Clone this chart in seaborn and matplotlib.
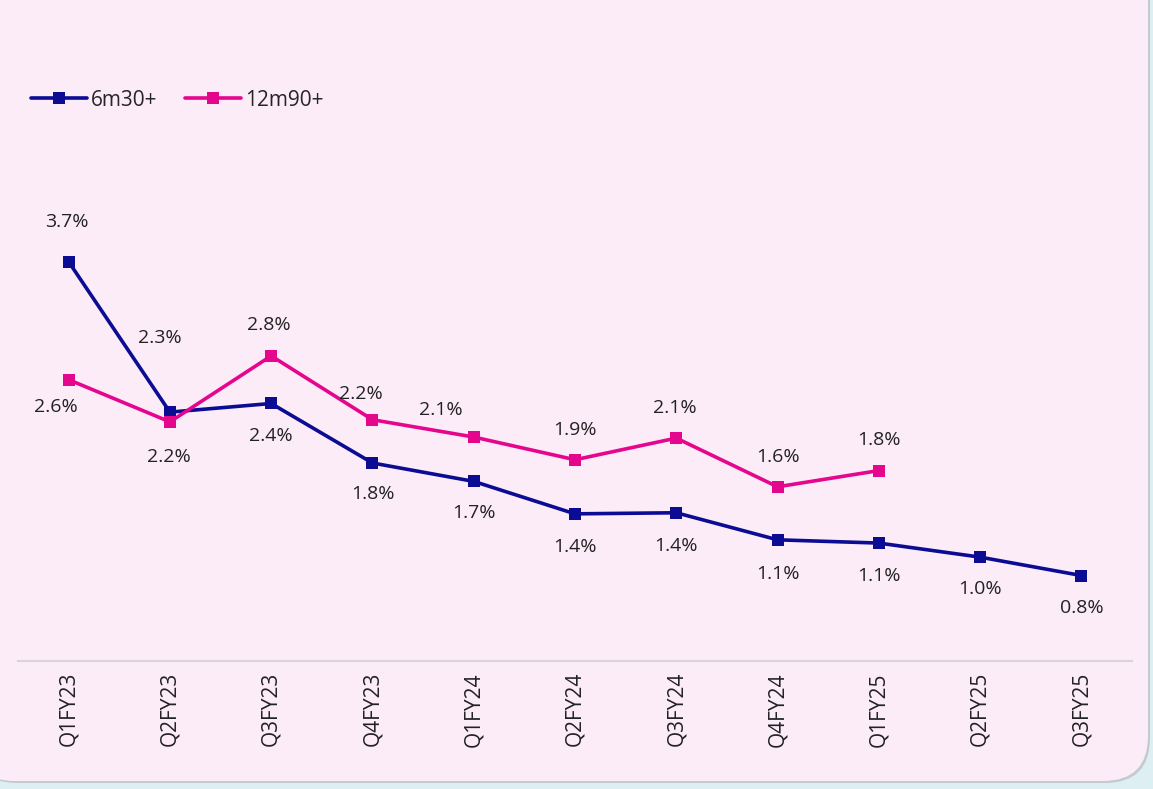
import numpy as np
import pandas as pd
import seaborn as sns
from matplotlib import pyplot as plt
from matplotlib.patches import FancyBboxPatch

quarters = ["Q1FY23", "Q2FY23", "Q3FY23", "Q4FY23", "Q1FY24", "Q2FY24",
            "Q3FY24", "Q4FY24", "Q1FY25", "Q2FY25", "Q3FY25"]
m6_30 = [3.69, 2.30, 2.38, 1.83, 1.66, 1.36, 1.37, 1.12, 1.09, 0.96, 0.79]
m6_30_labels = ["3.7%", "2.3%", "2.4%", "1.8%", "1.7%", "1.4%", "1.4%",
                "1.1%", "1.1%", "1.0%", "0.8%"]
m12_90 = [2.60, 2.21, 2.82, 2.23, 2.07, 1.86, 2.06, 1.61, 1.76]
m12_90_labels = ["2.6%", "2.2%", "2.8%", "2.2%", "2.1%", "1.9%", "2.1%",
                 "1.6%", "1.8%"]

# label offsets in pixels (dx, dy), dy positive = up
off_blue = [(-2, 40), (-10, 74), (0, -33), (0, -31), (0, -32), (0, -33),
            (0, -33), (0, -34), (0, -33), (0, -32), (0, -32)]
off_pink = [(-13, -27), (-1, -35), (-2, 31), (-12, 26), (-33, 27), (0, 30),
            (-1, 30), (0, 30), (0, 31)]

BLUE = "#0B0B94"
PINK = "#E5068E"
CARD = "#FCECF8"

rows = []
for i, q in enumerate(quarters):
    rows.append({"quarter": q, "pos": i, "value": m6_30[i], "series": "6m30+"})
for i, v in enumerate(m12_90):
    rows.append({"quarter": quarters[i], "pos": i, "value": v, "series": "12m90+"})
df = pd.DataFrame(rows)

sns.set_style("white")
plt.rcParams['font.family'] = ['Open Sans', 'DejaVu Sans']

fig = plt.figure(figsize=(11.53, 7.89), dpi=100)
fig.patch.set_facecolor("#DDEFF3")

# card background with shadow
shadow = FancyBboxPatch((-0.3 + 0.02, 0.06), 11.78, 8.6,
                        boxstyle="round,pad=0,rounding_size=0.45",
                        transform=fig.dpi_scale_trans, facecolor="#C3CBCF",
                        edgecolor="none", zorder=-3)
card = FancyBboxPatch((-0.3, 0.08), 11.78, 8.6,
                      boxstyle="round,pad=0,rounding_size=0.45",
                      transform=fig.dpi_scale_trans, facecolor=CARD,
                      edgecolor="none", zorder=-2)
fig.add_artist(shadow)
fig.add_artist(card)

ax = fig.add_axes([18 / 1153, 1 - 661 / 789, (1132 - 18) / 1153, (661 - 120) / 789])
ax.set_facecolor("none")
ax.set_zorder(1)

sns.lineplot(data=df, x="pos", y="value", hue="series",
             palette={"6m30+": BLUE, "12m90+": PINK},
             marker="s", markersize=9, markeredgewidth=0, linewidth=2.6,
             ax=ax, legend=True)

for i, v in enumerate(m6_30):
    ax.annotate(m6_30_labels[i], (i, v), xytext=off_blue[i], textcoords="offset pixels",
                ha="center", va="center", fontsize=14, color="#222222")
for i, v in enumerate(m12_90):
    ax.annotate(m12_90_labels[i], (i, v), xytext=off_pink[i], textcoords="offset pixels",
                ha="center", va="center", fontsize=14, color="#222222")

ax.set_xlim(-0.5, len(quarters) - 0.5)
ax.set_ylim(0, 5)
ax.set_xticks(range(len(quarters)))
ax.set_xticklabels(quarters, rotation=90, fontsize=15, color="#222222")
ax.set_yticks([])
ax.tick_params(axis="x", length=0, pad=8)
ax.set_xlabel("")
ax.set_ylabel("")
for s in ["top", "left", "right"]:
    ax.spines[s].set_visible(False)
ax.spines["bottom"].set_color("#D8D4D8")
ax.spines["bottom"].set_linewidth(1.5)

handles, labels = ax.get_legend_handles_labels()
ax.legend(handles, labels, loc="upper left", bbox_to_anchor=(12 / 1153, 1 - 71 / 789),
          bbox_transform=fig.transFigure, ncol=2, frameon=False, fontsize=15,
          handlelength=2.7, columnspacing=1.3, handletextpad=0.2)

fig.savefig("out.png", dpi=100, facecolor=fig.get_facecolor())
